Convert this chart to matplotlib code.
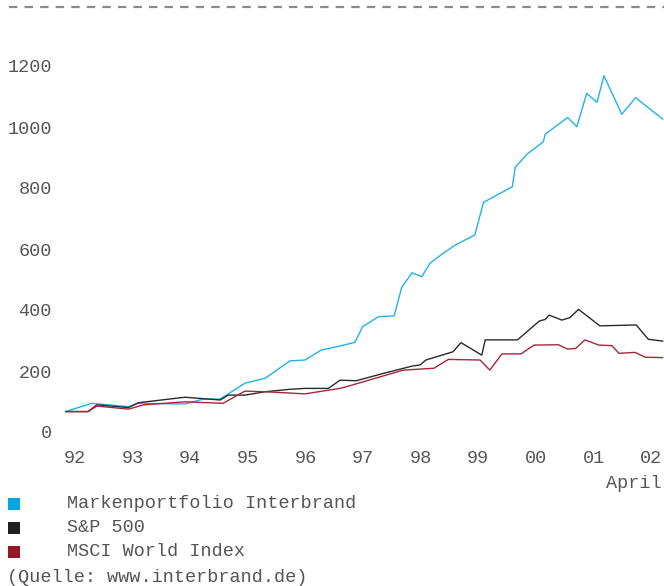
import matplotlib.pyplot as plt
from matplotlib.patches import Rectangle
from matplotlib.lines import Line2D

# Data (x = year, 92 = 1992, 100 = 2000 ...)
brand_x = [91.84, 92.29, 92.93, 93.10, 93.91, 94.23, 94.52, 94.95, 95.30, 95.73, 95.99,
           96.28, 96.60, 96.86, 96.99, 97.27, 97.54, 97.67, 97.85, 98.02, 98.16, 98.39,
           98.60, 98.94, 99.09, 99.59, 99.64, 99.84, 100.13, 100.16, 100.55, 100.71,
           100.88, 101.06, 101.18, 101.49, 101.73, 102.20]
brand_y = [67, 94, 83, 94, 92, 108, 108, 160, 176, 233, 236,
           269, 282, 294, 345, 378, 381, 474, 522, 509, 553, 586,
           613, 646, 753, 804, 867, 910, 952, 976, 1031, 1001,
           1110, 1081, 1168, 1042, 1096, 1026]

sp_x = [91.84, 92.23, 92.38, 92.93, 93.10, 93.91, 94.52, 94.66, 94.95, 95.30, 95.73,
        95.99, 96.40, 96.60, 96.88, 97.35, 97.85, 97.99, 98.09, 98.56, 98.70, 99.06,
        99.12, 99.68, 100.06, 100.16, 100.23, 100.45, 100.59, 100.74, 101.11, 101.74,
        101.95, 102.20]
sp_y = [67, 67, 89, 80, 96, 114, 105, 121, 121, 132, 140,
        143, 143, 170, 168, 192, 216, 220, 236, 263, 293, 252,
        302, 302, 364, 369, 383, 367, 375, 402, 348, 351,
        304, 298]

msci_x = [91.84, 92.23, 92.38, 92.93, 93.19, 93.91, 94.57, 94.95, 95.30, 95.99, 96.60,
          96.72, 97.70, 98.23, 98.48, 99.03, 99.20, 99.41, 99.74, 99.97, 100.39, 100.55,
          100.69, 100.85, 101.09, 101.32, 101.44, 101.72, 101.90, 102.20]
msci_y = [67, 67, 85, 75, 89, 99, 94, 134, 132, 125, 143,
          149, 203, 209, 238, 236, 203, 256, 256, 285, 286, 272,
          274, 302, 285, 283, 258, 261, 245, 244]

year_ticks = [92, 93, 94, 95, 96, 97, 98, 99, 100, 101, 102]
year_labels = ['92', '93', '94', '95', '96', '97', '98', '99', '00', '01', '02']
value_ticks = [0, 200, 400, 600, 800, 1000, 1200]

series_names = ['Markenportfolio Interbrand', 'S&P 500', 'MSCI World Index']
line_colors = ['#1fb3ea', '#2a2a2a', '#a3283c']
box_colors = ['#00a5e5', '#231f20', '#951726']

text_color = '#555555'
mono = 'Liberation Mono'
fs = 13.3

W, H = 664, 586
fig = plt.figure(figsize=(W / 100, H / 100), dpi=100)

# axes placed in pixel terms: x 65.7..662.7, y 0 -> px 432, 1200 -> px 66
left, right = 65.7 / W, 662.7 / W
bottom, top = (H - 432) / H, (H - 66) / H
ax = fig.add_axes([left, bottom, right - left, top - bottom])

ax.plot(brand_x, brand_y, color=line_colors[0], lw=1.0, clip_on=False)
ax.plot(sp_x, sp_y, color=line_colors[1], lw=1.0, clip_on=False)
ax.plot(msci_x, msci_y, color=line_colors[2], lw=1.0, clip_on=False)

ax.set_xlim(91.84, 102.2)
ax.set_ylim(0, 1200)
for s in ax.spines.values():
    s.set_visible(False)

ax.set_xticks(year_ticks)
ax.set_xticklabels(year_labels)
ax.set_yticks(value_ticks)
ax.tick_params(axis='both', length=0, colors=text_color, labelsize=fs)
ax.tick_params(axis='y', pad=10)
ax.tick_params(axis='x', pad=13)
for lab in ax.get_xticklabels() + ax.get_yticklabels():
    lab.set_fontfamily(mono)

# "April" under the last year
fig.text(662 / W, 1 - 483 / H, 'April', ha='right', va='center',
         fontsize=fs, family=mono, color=text_color)

# dashed line at the top
fig.add_artist(Line2D([9 / W, 1.0], [1 - 7 / H, 1 - 7 / H], transform=fig.transFigure,
                      color='#8a8a8a', lw=1.6, linestyle=(0, (3.8, 3.2))))

# legend as squares + text
rows = [504, 528, 552]
for name, col, ypx in zip(series_names, box_colors, rows):
    fig.add_artist(Rectangle((8 / W, 1 - (ypx + 6) / H), 12 / W, 12 / H,
                             transform=fig.transFigure, color=col, lw=0))
    fig.text(67 / W, 1 - ypx / H, name, ha='left', va='center',
             fontsize=fs, family=mono, color=text_color)

fig.text(7 / W, 1 - 577 / H, '(Quelle: www.interbrand.de)', ha='left', va='center',
         fontsize=fs, family=mono, color=text_color)

fig.savefig('out.png', dpi=100)
